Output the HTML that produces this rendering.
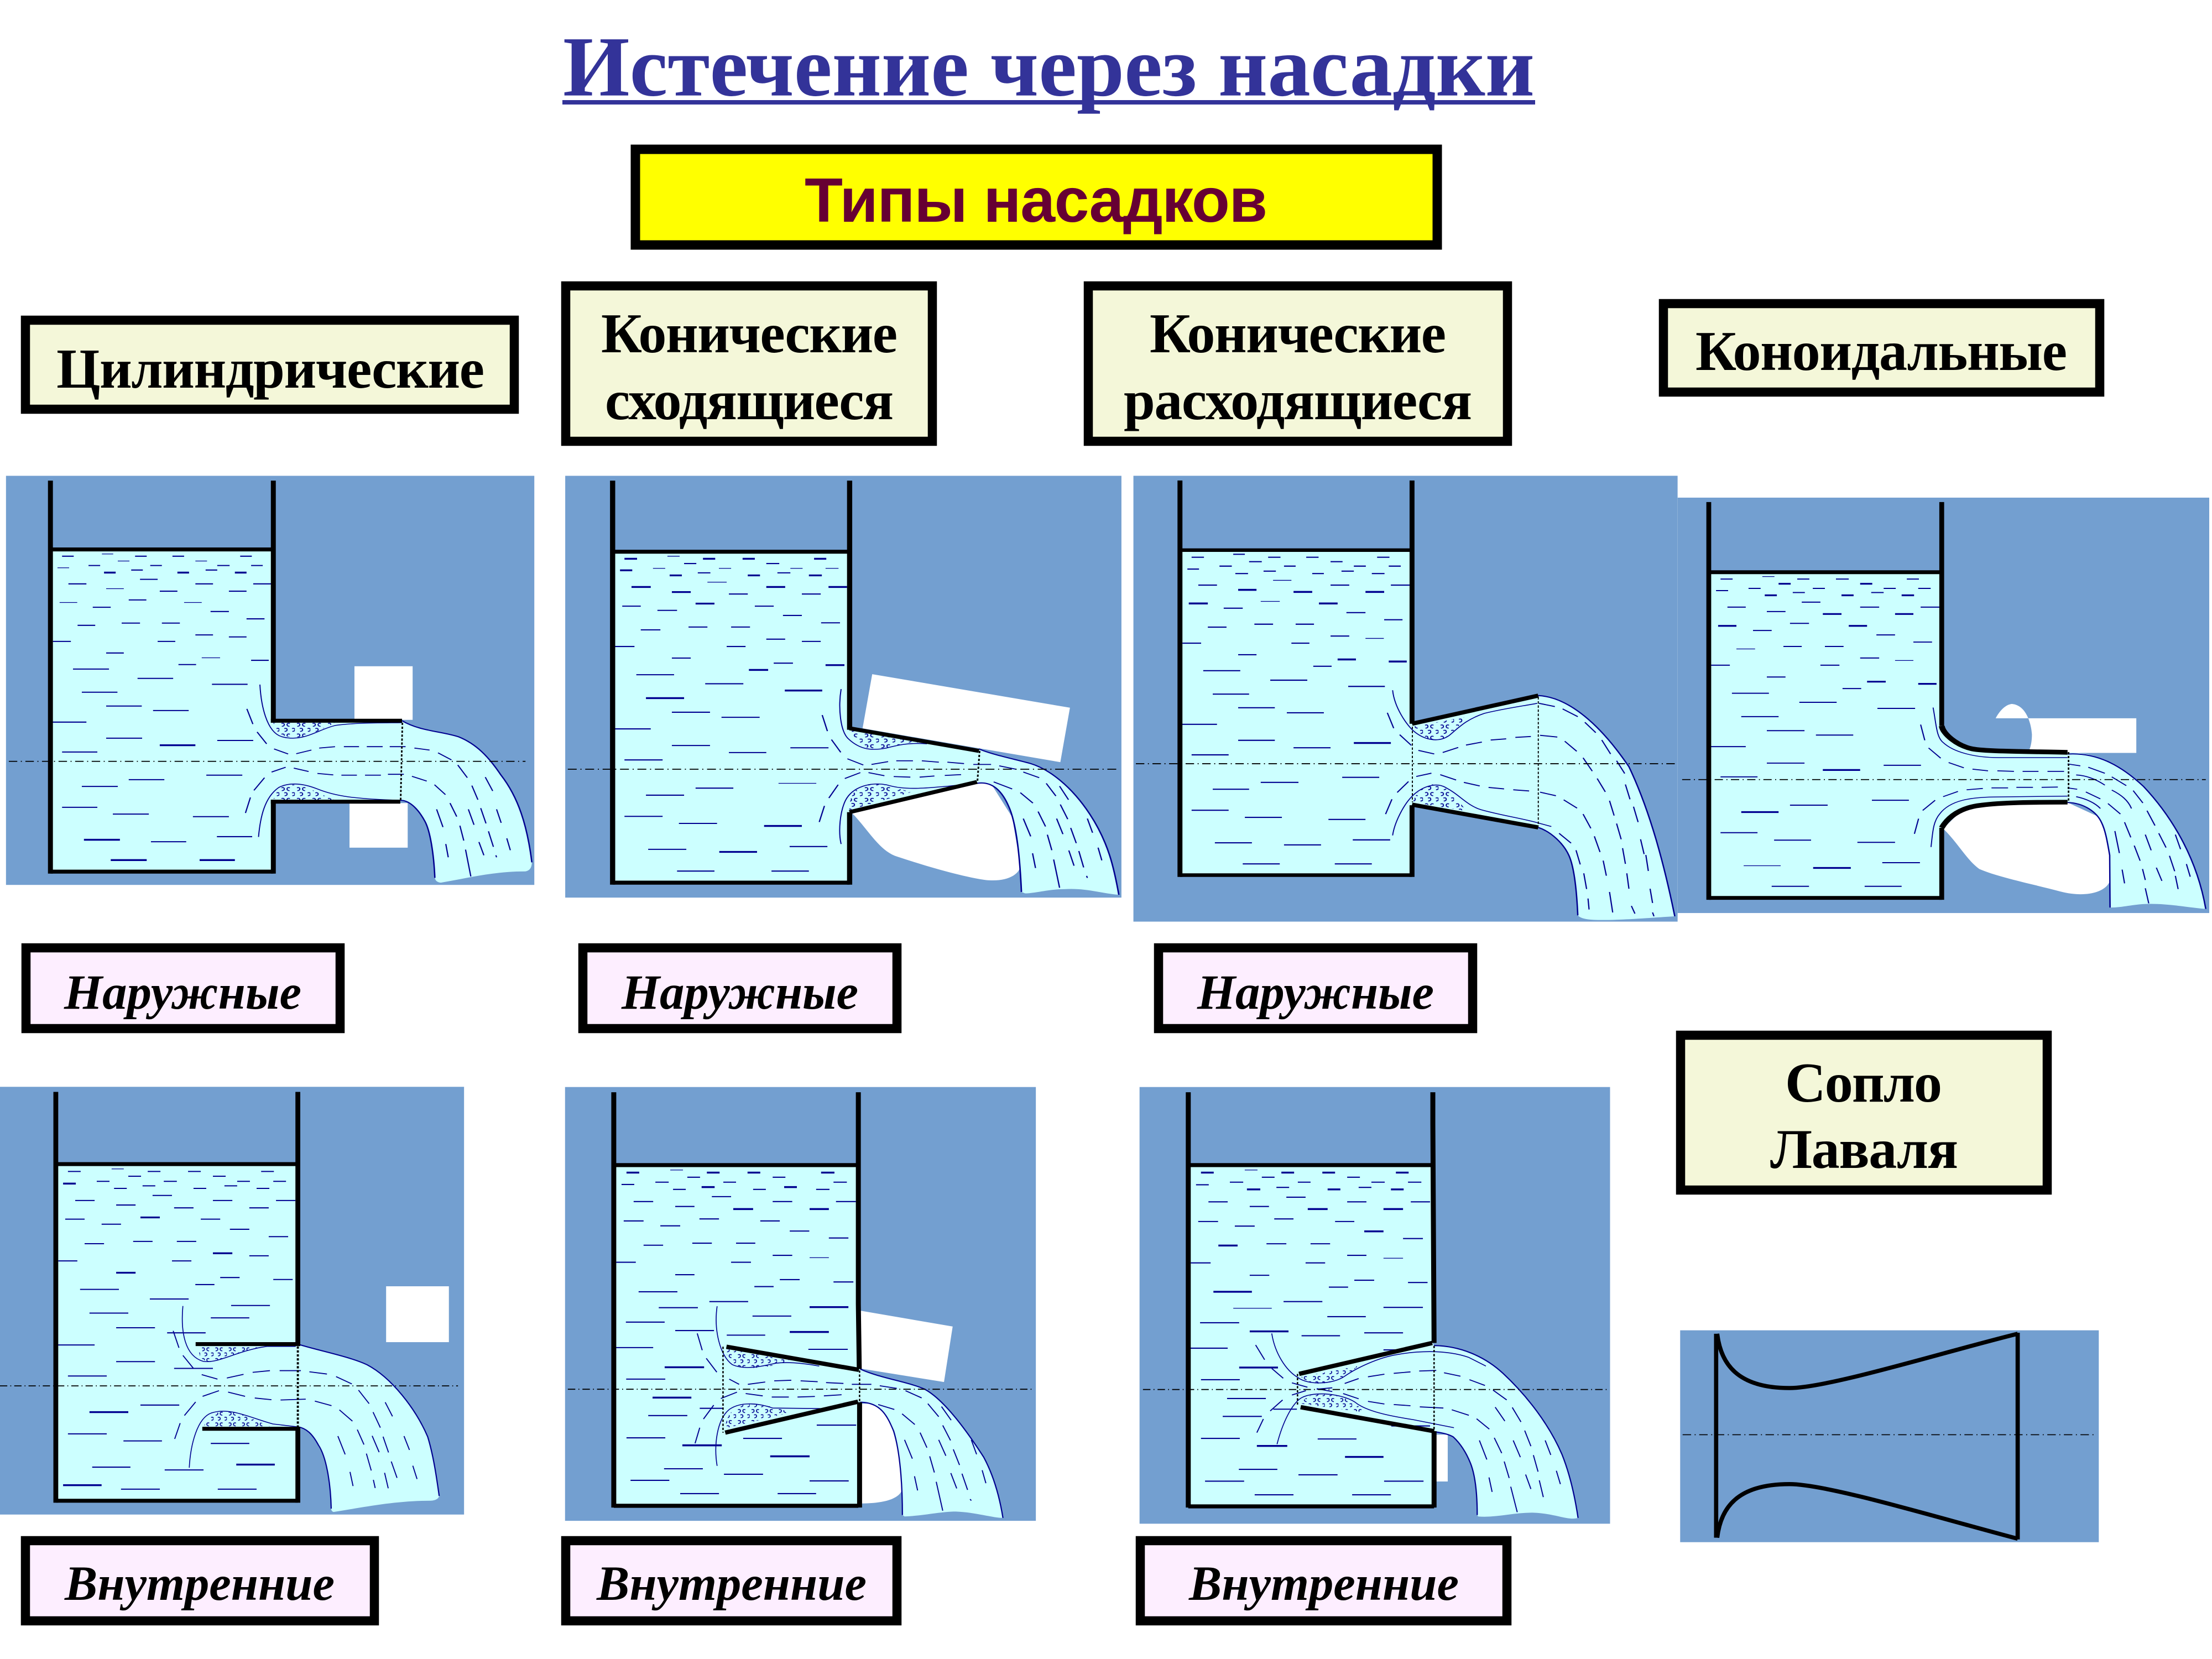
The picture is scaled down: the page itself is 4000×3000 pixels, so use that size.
<!DOCTYPE html>
<html lang="ru"><head><meta charset="utf-8"><title>Истечение через насадки</title>
<style>
html,body{margin:0;padding:0;background:#fff}
svg{display:block}
.ls{font-family:"Liberation Serif","Noto Serif CJK SC",serif;font-weight:bold;fill:#000}
.la{font-family:"Liberation Sans","Noto Sans CJK SC",sans-serif;font-weight:bold;fill:#660033}
.bg{fill:#739fd0}.wh{fill:#fff}.wt{fill:#ccffff}
.n,.k,.t,.s,.d,.e{fill:none;stroke:#000090}
.n{stroke-width:4}.k{stroke-width:6.5}.t{stroke-width:2.5}.s{stroke-width:3}.d{stroke-width:3.5}.e{stroke-width:4}
.w{fill:none;stroke:#000;stroke-width:14}.h{fill:none;stroke:#000;stroke-width:14}.z{fill:none;stroke:#000;stroke-width:14}
.o{fill:none;stroke:#000;stroke-width:4.5;stroke-dasharray:8 6}
.c{fill:none;stroke:#000;stroke-width:3.5;stroke-dasharray:24 10 3 10}
.dz{fill:url(#bub);stroke:none}
</style></head>
<body>
<svg xmlns="http://www.w3.org/2000/svg" width="4000" height="3000" viewBox="0 0 4000 3000">
<defs><pattern id="bub" patternUnits="userSpaceOnUse" width="44" height="38"><path d="M6 6q7-3 8 3t-7 7M30 6q-7-3-8 3t7 7M14 24q7-3 8 3t-7 7M36 24q7-3 8 3t-7 7" fill="none" stroke="#000090" stroke-width="3"/></pattern></defs>
<rect width="4000" height="3000" fill="#fff"/>

<!-- PANEL 1 -->
<g class="p" transform="translate(0,840) scale(.63776,.5102)">
<rect class="bg" x="17" y="40" width="1498" height="1450"/>
<rect class="wh" x="1005" y="715" width="165" height="190"/><rect class="wh" x="991" y="1200" width="165" height="158"/>
<path class="wt" d="M143 301H775V908H1140C1190 945 1250 945 1300 965C1350 990 1385 1035 1420 1100C1470 1180 1495 1280 1508 1410Q1508 1438 1490 1442C1400 1442 1330 1465 1250 1482Q1235 1480 1233 1465C1230 1380 1220 1300 1205 1265C1190 1230 1165 1190 1135 1190L775 1195V1443H143Z"/>
<path class="e" d="M1140 908C1190 945 1250 945 1300 965C1350 990 1385 1035 1420 1100C1470 1180 1495 1280 1508 1410M1233 1465C1230 1380 1220 1300 1205 1265C1190 1230 1165 1190 1135 1190"/>
<path class="n" d="M176 325h33M383 325h33M489 325h33M681 325h33M251 358h33M426 358h33M616 358h35M712 358h33M372 374h33M583 374h33M397 407h50M194 423h51M554 423h50M718 423h51M453 449h50M649 449h50M365 480h50M263 506h51M597 521h52M699 547h51M220 570h50M345 562h52M459 562h51M554 604h50M649 611h50M150 627h51M447 627h50M301 668h50M712 694h50M506 709h50M207 725h102M390 758h101M601 779h101M232 807h101M301 856h101M434 872h101M145 913h100M301 970h102M616 978h102M176 1019h100M365 1117h101M585 1101h102M232 1141h102M176 1215h100M320 1239h102M547 1248h102M615 1319h100M428 1337h100"/>
<path class="k" d="M295 383h33M503 383h33M666 383h33M453 995h101M238 1330h102M314 1402h102M566 1402h100"/>
<path class="t" d="M289 317h32M334 342h33M554 342h33M163 366h33M301 440h50M169 489h50M522 489h50M572 685h52"/>
<path class="dz" d="M775 915L950 915C900 945 860 975 820 965C790 960 780 940 775 915Z"/>
<path class="dz" d="M775 1190L950 1190C900 1165 860 1130 820 1135C790 1140 780 1165 775 1190Z"/>
<path class="s" d="M737 780C740 850 755 950 800 965C860 985 900 940 950 925C1000 915 1080 916 1140 915M733 1320C738 1250 750 1180 790 1145C820 1125 860 1130 900 1150C950 1175 1000 1185 1135 1190"/>
<path class="d" d="M700 866L717 920M729 948L756 990M777 1008L817 1026M840 1025L883 1012M905 1005L950 1000M975 1000H1018M1040 1000H1085M1105 1000H1150M1175 1005L1218 1012M1242 1022L1280 1047M1298 1065L1325 1110M1376 1108L1397 1157M1338 1138L1355 1188M1276 1200L1295 1248M1238 1222L1256 1285M1328 1222L1344 1277M1363 1218L1378 1272M1408 1222L1421 1270M1304 1280L1315 1333M1385 1300L1399 1355M1437 1325L1447 1367M1264 1345L1271 1392M1358 1338L1372 1385M1320 1365L1335 1460M1406 1385L1408 1392M696 1235L710 1180M720 1155L750 1110M770 1090L810 1073M833 1076L875 1088M900 1095L945 1100M968 1101H1012M1035 1101H1080M1100 1098H1145M1168 1105L1210 1122M1232 1135L1263 1170"/>
<path class="o" d="M1141 915L1136 1190"/>
<path class="w" d="M143 57V1450M775 57V915M775 1188V1450"/>
<path class="h" d="M143 301H775M143 1443H775M768 908H1140M768 1195H1135"/>
<path class="c" d="M25 1052H1490"/>
</g>

<!-- PANEL 2 -->
<g class="p" transform="translate(1000,840) scale(.66964,.5102)">
<rect class="bg" x="33" y="40" width="1502" height="1495"/>
<path class="wh" d="M862 743L1396 862L1370 1055L836 935Z"/>
<path class="wh" d="M805 1232C850 1290 880 1370 930 1390C1000 1420 1100 1460 1170 1473C1230 1480 1262 1450 1262 1420L1240 1250L1180 1125L1145 1130Z"/>
<path class="wt" d="M161 309H801V935L1150 1008C1190 1030 1250 1045 1290 1060C1340 1080 1400 1140 1450 1240C1500 1340 1515 1430 1528 1525C1480 1520 1440 1500 1380 1505C1340 1505 1300 1520 1275 1520L1265 1515C1262 1430 1255 1280 1230 1210C1215 1165 1190 1120 1145 1130L801 1232V1482H161Z"/>
<path class="e" d="M1150 1008C1190 1030 1250 1045 1290 1060C1340 1080 1400 1140 1450 1240C1500 1340 1515 1430 1528 1525M1265 1515C1262 1430 1255 1280 1230 1210C1215 1165 1190 1120 1145 1130"/>
<path class="n" d="M354 351h33M576 351h35M391 384h34M606 384h35M475 459h51M672 459h51M187 502h50M282 517h53M545 502h51M621 535h51M724 561h51M237 586h53M366 576h51M481 576h51M576 619h51M672 627h51M168 645h52M469 645h51M321 686h51M596 704h52M225 745h102M411 777h103M321 878h103M455 896h103M161 937h103M321 996h103M641 1004h103M475 1021h101M193 1047h103M385 1147h102M251 1172h103M193 1247h103M340 1272h103M639 1354h102M257 1364h103M335 1441h101M590 1441h101"/>
<path class="k" d="M193 334h34M405 334h33M512 334h33M705 334h33M181 375h33M315 393h33M526 393h33M691 393h35M212 434h52M321 452h51M576 434h51M744 434h50M385 493h51M529 728h52M736 711h51M626 801h101M251 828h103M570 1281h102M449 1373h102"/>
<path class="t" d="M309 325h33M270 368h33M448 368h33M641 368h33M736 368h35M417 417h52M609 1130h102"/>
<path class="dz" d="M803 940L1000 988C950 985 910 1005 870 1008C830 1005 810 975 803 940Z"/>
<path class="dz" d="M800 1225L970 1160C940 1155 920 1140 870 1132C820 1130 800 1170 800 1225Z"/>
<path class="s" d="M778 796C770 860 775 950 800 975C830 1010 860 1015 900 1005C930 995 960 985 1010 990M778 1345C770 1300 775 1230 790 1190C810 1140 860 1125 900 1135C950 1155 1000 1150 1140 1130"/>
<path class="d" d="M727 888L741 945M752 975L777 1020M795 1043L838 1065M860 1063L905 1053M927 1050H972M996 1050L1042 1055M1065 1055L1110 1060M1135 1063H1183M1205 1068L1250 1080M1270 1090L1313 1110M1332 1130L1358 1175M1368 1140L1392 1188M1370 1205L1390 1257M1398 1288L1413 1342M1443 1255L1457 1305M1360 1255L1377 1310M1310 1230L1330 1283M1270 1255L1290 1318M1335 1312L1347 1367M1393 1368L1407 1422M1420 1370L1433 1428M1472 1358L1482 1403M1295 1378L1303 1430M1352 1400L1368 1500M1441 1458L1443 1465M719 1267L733 1210M745 1182L770 1135M788 1113L830 1092M852 1092L895 1103M920 1106L965 1108M990 1108L1030 1104M1058 1102L1102 1099M1190 1125L1240 1150M1262 1163L1296 1200"/>
<path class="o" d="M1152 1015L1146 1125"/>
<path class="w" d="M161 57V1489M801 57V940M801 1232V1489"/>
<path class="h" d="M161 309H801M161 1482H801"/>
<path class="z" d="M801 935L1150 1015M801 1232L1145 1125"/>
<path class="c" d="M40 1080H1525"/>
</g>

<!-- PANEL 3 -->
<g class="p" transform="translate(2040,840) scale(.63776,.53571)">
<rect class="bg" x="15" y="38" width="1543" height="1505"/>
<path class="wt" d="M147 289H805V875L1163 780C1250 785 1340 880 1420 1020C1480 1170 1520 1350 1550 1525C1480 1530 1380 1540 1320 1537Q1285 1535 1275 1522C1272 1440 1265 1360 1250 1320C1235 1280 1200 1240 1163 1225L805 1148V1386H147Z"/>
<path class="e" d="M1163 780C1250 785 1340 880 1420 1020C1480 1170 1520 1350 1550 1525M1275 1522C1272 1440 1265 1360 1250 1320C1235 1280 1200 1240 1163 1225"/>
<path class="n" d="M180 313h35M397 313h35M505 313h35M706 313h35M298 303h33M343 328h36M574 328h34M259 343h35M442 343h33M640 343h34M739 343h34M168 353h33M304 368h36M522 368h33M691 368h36M384 360h35M605 360h35M199 407h53M574 407h53M745 407h53M271 485h54M619 500h54M726 524h52M226 549h53M358 539h53M475 539h52M574 579h53M154 603h53M463 603h51M312 642h52M525 681h52M213 696h105M403 728h105M240 775h103M312 821h104M450 838h105M149 877h103M312 931h104M469 956h105M180 980h105M376 1073h107M607 1056h105M240 1096h103M180 1167h105M331 1191h105M568 1198h105M637 1267h106M442 1284h105M246 1277h105M325 1348h105M586 1348h105M624 749h104"/>
<path class="k" d="M312 423h52M469 430h53M673 430h53M172 469h54M541 469h53M594 658h52M739 665h51M640 940h105"/>
<path class="t" d="M411 391h52M376 462h54M673 587h52"/>
<path class="dz" d="M808 885L965 850C930 890 900 935 865 930C835 925 815 905 808 885Z"/>
<path class="dz" d="M808 1140L960 1170C930 1125 900 1075 860 1080C830 1090 815 1110 808 1140Z"/>
<path class="s" d="M750 762C755 820 790 880 810 900C840 930 880 940 910 915C940 885 960 860 1010 840C1060 825 1120 815 1160 806M750 1252C755 1210 780 1150 805 1120C830 1090 870 1070 900 1090C940 1115 960 1150 1000 1165C1060 1185 1120 1195 1163 1210L1200 1222"/>
<path class="d" d="M735 838L753 890M770 912L803 948M823 965L868 977M892 972L936 955M958 947L1003 937M1028 930L1072 926M1098 921L1142 918M1168 914L1217 920M1238 934L1272 968M1290 990L1316 1035M1343 930L1368 977M1295 870L1326 905M1232 825L1275 851M1165 806L1210 817M1330 1060L1353 1105M1385 1000L1408 1043M1365 1135L1378 1185M1410 1080L1423 1130M1433 1155L1446 1207M1385 1212L1398 1265M1322 1255L1338 1308M1290 1180L1312 1228M1347 1337L1356 1388M1402 1295L1410 1348M1453 1265L1463 1315M1468 1318L1475 1372M1270 1302L1282 1350M1292 1380L1300 1433M1414 1380L1420 1432M1480 1432L1487 1480M1365 1443L1374 1512M1304 1465L1307 1502M1427 1490L1437 1516M1487 1512L1491 1525M730 1180L748 1130M763 1107L795 1070M817 1053L860 1042M885 1047L930 1065M952 1073L997 1085M1022 1090L1066 1095M1092 1098L1137 1102M1168 1106L1213 1118M1235 1132L1273 1160M1222 1245L1256 1278"/>
<path class="o" style="stroke-width:3" d="M806 885V1140M1163 785V1215"/>
<path class="w" d="M147 54V1392M805 54V875M805 1150V1392"/>
<path class="h" style="stroke-width:12" d="M147 289H805M147 1386H805"/>
<path class="z" d="M805 875L1163 780M805 1148L1163 1225"/>
<path class="c" d="M22 1010H1550"/>
</g>

<!-- PANEL 4 -->
<g class="p" transform="translate(3020,880) scale(.625,.49745)">
<rect class="bg" x="22" y="40" width="1538" height="1510"/>
<path class="wh" d="M942 842C960 800 980 790 990 790C1030 795 1045 860 1047 900C1047 920 1045 940 1040 955V968H1349V842Z"/>
<path class="wh" d="M790 1243C830 1290 860 1360 895 1390C950 1420 1050 1445 1130 1472C1200 1495 1260 1475 1272 1435L1272 1300L1240 1200L1150 1148L950 1150L850 1170Z"/>
<path class="wt" d="M112 311H786V870C790 900 830 940 870 952C900 962 1000 962 1150 966C1240 965 1310 1020 1370 1090C1430 1170 1520 1320 1550 1535C1500 1530 1440 1515 1380 1517C1340 1518 1310 1530 1275 1530L1272 1340C1265 1290 1260 1250 1248 1220C1235 1185 1200 1150 1150 1148C1050 1147 960 1148 900 1158C850 1165 810 1190 786 1240V1495H112Z"/>
<path class="e" d="M1150 972C1240 965 1310 1020 1370 1090C1430 1170 1520 1320 1550 1535M1273 1530L1272 1340C1265 1290 1260 1250 1248 1220C1235 1185 1200 1150 1150 1148"/>
<path class="n" d="M146 336h35M368 336h35M480 336h37M685 336h35M227 370h35M413 370h35M618 370h35M718 370h36M133 378h35M355 385h35M582 385h36M381 420h54M166 438h53M550 438h55M725 438h55M280 454h54M347 497h55M240 523h54M597 539h54M704 565h54M328 581h53M448 581h54M550 623h55M118 649h55M435 649h55M280 692h54M499 734h54M179 751h107M374 784h108M600 806h109M206 836h108M280 887h109M422 903h108M118 945h101M280 1005h109M618 1013h108M146 1055h107M347 1158h109M584 1140h107M146 1258h107M301 1285h107M542 1293h109M614 1367h109M294 1453h108M563 1453h107"/>
<path class="k" d="M314 353h35M550 353h35M274 395h35M496 395h35M670 395h36M442 463h54M651 463h53M139 506h53M517 506h53M570 709h54M718 717h53M442 1030h108M206 1183h108M414 1386h109"/>
<path class="t" d="M267 327h35M192 590h54M651 632h53M213 1378h107"/>
<path class="s" d="M761 803C770 860 770 910 790 930C820 965 880 985 950 985L1150 985M755 1310C760 1260 760 1220 780 1190C810 1140 870 1128 950 1128L1150 1125"/>
<path class="d" d="M725 865L737 922M748 950L783 987M806 1003L850 1022M875 1027L920 1033M947 1033L995 1035M1020 1035H1066M1092 1035H1140M1150 1008L1187 1015M1210 1020L1258 1042M1278 1055L1320 1087M1340 1105L1368 1150M1380 1178L1403 1232M1414 1260L1435 1312M1462 1265L1477 1318M1175 1048C1210 1050 1240 1070 1258 1085M1175 1127C1205 1135 1230 1150 1245 1170M1267 1152L1303 1190M1315 1220L1333 1275M1375 1265L1392 1322M1287 1252L1300 1332M1343 1305L1360 1360M1445 1342L1460 1398M1494 1372L1505 1418M1407 1385L1423 1433M1308 1392L1315 1442M1367 1390L1375 1430M1462 1415L1470 1463M1375 1460L1385 1515M1203 1110L1245 1135M1278 1103C1305 1120 1325 1140 1335 1170M1150 1095L1178 1100M707 1262L719 1207M731 1177L767 1140M790 1127L833 1108M858 1102L905 1097M930 1095L978 1095M1002 1093L1050 1093M1075 1093L1122 1092"/>
<path class="o" d="M1153 965V1148"/>
<path class="w" d="M112 56V1502M786 56V870M786 1240V1502"/>
<path class="h" d="M112 311H786M112 1495H786"/>
<path class="z" style="stroke-width:17" d="M786 870C790 900 830 940 870 952C900 962 1000 962 1150 966M786 1240C810 1190 850 1165 900 1158C960 1148 1050 1147 1150 1147"/>
<path class="c" d="M35 1065H1550"/>
</g>

<!-- PANEL 5 -->
<g class="p" transform="translate(0,1950) scale(.54847,.5102)">
<rect class="bg" x="0" y="30" width="1530" height="1516"/>
<rect class="wh" x="1273" y="737" width="207" height="198"/>
<path class="wt" d="M184 304H982V942C1050 965 1150 985 1210 1015C1290 1060 1370 1170 1410 1270C1430 1340 1440 1420 1448 1480Q1445 1495 1420 1497C1300 1497 1200 1520 1100 1537Q1092 1535 1092 1525C1090 1430 1075 1340 1050 1300C1030 1260 1010 1240 982 1235V1497H184Z"/>
<path class="e" d="M982 942C1050 965 1150 985 1210 1015C1290 1060 1370 1170 1410 1270C1430 1340 1440 1420 1448 1480M1092 1525C1090 1430 1075 1340 1050 1300C1030 1260 1010 1240 982 1235"/>
<path class="n" d="M224 330h42M487 330h42M620 330h42M861 330h42M423 347h42M702 347h42M319 365h42M540 365h43M782 365h42M901 365h42M376 390h42M470 381h42M638 390h42M740 381h42M846 390h42M503 415h64M248 433h64M702 433h64M910 433h64M383 449h64M574 459h64M822 459h64M215 499h64M662 499h64M335 517h64M758 535h64M886 561h64M279 586h64M439 578h64M583 578h64M822 629h64M192 647h63M567 647h64M726 706h64M644 731h63M901 713h64M264 748h128M494 782h128M295 832h128M762 805h128M695 849h127M383 884h128M551 902h127M186 945h126M383 1004h128M574 1028h128M224 1055h128M463 1158h128M224 1260h128M407 1285h127M695 1294h127M304 1378h126M543 1388h128M399 1456h128M718 1456h128"/>
<path class="k" d="M208 373h42M463 493h64M702 620h64M383 689h64M295 1183h128M779 1369h127M208 1442h127"/>
<path class="t" d="M368 321h40"/>
<path class="dz" d="M655 950L870 950C800 960 740 1000 690 1003C660 1000 655 980 655 950Z"/>
<path class="dz" d="M672 1235L895 1235C840 1215 790 1175 740 1180C700 1185 680 1205 672 1235Z"/>
<path class="s" d="M603 807C595 900 610 985 670 1003C720 1012 780 965 880 950L975 950M624 1380C628 1300 650 1200 700 1185C760 1165 830 1205 900 1225L980 1235"/>
<path class="d" d="M571 895L590 955M603 982L637 1027M665 1050L717 1066M748 1062L803 1049M833 1042L890 1036M922 1036L992 1036M1020 1040L1078 1048M1108 1057L1160 1083M1182 1105L1217 1153M1270 1148L1294 1198M1230 1183L1254 1238M1178 1245L1200 1298M1227 1267L1250 1325M1263 1270L1281 1326M1332 1268L1350 1317M1114 1268L1138 1333M1208 1330L1224 1390M1290 1358L1309 1416M1361 1373L1375 1420M1154 1395L1164 1445M1231 1423L1237 1452M1268 1398L1280 1453M576 1278L594 1222M608 1195L645 1147M668 1127L722 1107M752 1112L808 1127M840 1133L895 1139M925 1140L1008 1137M1038 1144L1093 1160M1119 1175L1162 1215"/>
<path class="o" style="stroke-width:7" d="M982 950V1235"/>
<path class="w" style="stroke-width:16" d="M184 48V1504M982 48V942M982 1240V1504"/>
<path class="h" d="M184 304H982M184 1497H982M645 942H990M667 1242H990"/>
<path class="c" d="M0 1090H1510"/>
</g>

<!-- PANEL 6 -->
<g class="p" transform="translate(1010,1950) scale(.56122,.52296)">
<rect class="bg" x="21" y="30" width="1517" height="1500"/>
<path class="wh" d="M970 803L1270 858L1242 1050L970 1003Z"/>
<path class="wh" d="M970 1125L1030 1125C1080 1180 1100 1300 1108 1420C1100 1450 1060 1470 970 1470Z"/>
<path class="wt" d="M178 300H966V1005L972 1005C1030 1035 1130 1050 1180 1075C1240 1110 1310 1210 1370 1310C1400 1370 1420 1440 1432 1520C1400 1520 1340 1500 1280 1498C1230 1498 1180 1512 1115 1515L1108 1510C1108 1400 1100 1290 1080 1220C1060 1170 1040 1120 972 1120L966 1120V1478H178Z"/>
<path class="e" d="M972 1005C1030 1035 1130 1050 1180 1075C1240 1110 1310 1210 1370 1310C1400 1370 1420 1440 1432 1520M1108 1510C1108 1400 1100 1290 1080 1220C1060 1170 1040 1120 972 1120"/>
<path class="n" d="M312 359h43M531 359h41M886 359h43M415 342h41M690 342h41M203 367h41M369 384h41M627 384h41M830 384h43M494 409h62M242 426h63M690 426h63M894 426h64M376 443h62M210 493h64M454 486h63M650 493h63M328 510h64M745 528h63M871 552h63M274 577h63M431 570h63M572 570h62M186 636h63M556 636h64M690 612h63M376 679h62M713 696h64M631 720h62M886 704h64M258 738h125M486 772h125M323 793h126M625 822h125M217 843h125M376 872h125M542 888h124M805 937h127M178 931h127M218 1040h126M289 1166h126M455 1141h75M832 1199h127M219 1243h125M595 1245h125M340 1350h125M533 1369h126M232 1390h125M809 1392h126M392 1436h125M706 1436h124"/>
<path class="k" d="M219 326h41M478 326h41M609 326h41M846 326h43M461 376h42M727 376h41M563 452h64M809 452h62M809 791h125M745 877h126M342 999h127M303 1104h125M399 1269h127M682 1307h127"/>
<path class="t" d="M360 317h41M809 620h62"/>
<path class="dz" d="M537 935L745 975C700 995 640 1005 590 1000C560 990 540 965 537 935Z"/>
<path class="dz" d="M537 1210L750 1155C700 1140 650 1120 600 1128C560 1135 540 1170 537 1210Z"/>
<path class="s" d="M511 788C500 870 520 960 560 990C600 1010 660 995 700 985C740 980 790 985 840 995M511 1340C500 1270 510 1180 550 1145C590 1115 650 1125 690 1140L850 1142"/>
<path class="d" d="M447 882L463 940M476 968L510 1016M550 1040L582 1058M610 1058L666 1050M695 1046L750 1044M780 1046L835 1049M862 1052L918 1055M945 1058L1008 1058M1035 1063L1090 1072M1118 1080L1170 1105M1190 1125L1225 1170M1234 1135L1265 1182M1238 1200L1263 1252M1165 1225L1187 1277M1225 1250L1248 1305M1330 1250L1347 1300M1115 1250L1140 1315M1272 1283L1292 1337M1196 1307L1211 1363M1264 1365L1283 1418M1300 1367L1318 1423M1365 1355L1377 1400M1147 1376L1157 1425M1217 1395L1238 1495M1326 1455L1330 1460M440 1262L455 1208M467 1178L500 1130M523 1107L575 1085M603 1090L658 1098M687 1102L742 1102M770 1102L826 1100M855 1098L912 1094M1030 1128L1082 1145M1107 1160L1148 1197"/>
<path class="o" d="M530 928V1225M970 1010V1120"/>
<path class="w" style="stroke-width:16" d="M178 48V1484M966 48V780L969 1005M970 1120V1484"/>
<path class="h" d="M178 300H966M178 1478H966"/>
<path class="z" style="stroke-width:15" d="M541 928L968 1008M537 1225L965 1118"/>
<path class="c" d="M30 1075H1530"/>
</g>

<!-- PANEL 7 -->
<g class="p" transform="translate(2050,1950) scale(.56122,.52296)">
<rect class="bg" x="19" y="30" width="1516" height="1510"/>
<rect class="wh" x="975" y="1232" width="37" height="162"/>
<path class="wt" d="M176 300H964V915L968 924C1050 925 1130 960 1190 1020C1270 1100 1340 1200 1380 1300C1410 1380 1425 1470 1432 1520C1400 1530 1360 1505 1290 1502C1230 1500 1170 1520 1110 1515L1107 1510C1107 1430 1100 1370 1085 1330C1070 1290 1050 1260 1030 1240C1015 1230 990 1225 970 1222V1480H176Z"/>
<path class="e" d="M968 924C1050 925 1130 960 1190 1020C1270 1100 1340 1200 1380 1300C1410 1380 1425 1470 1432 1520M1107 1510C1107 1430 1100 1370 1085 1330C1070 1290 1050 1260 1030 1240C1015 1230 990 1225 970 1222"/>
<path class="n" d="M413 342h41M688 342h41M310 359h43M529 359h41M766 359h43M884 359h43M201 368h41M460 377h41M725 377h41M492 411h62M241 427h62M688 427h62M893 427h62M374 443h62M208 495h64M453 486h62M649 495h62M326 511h64M868 554h64M428 572h64M570 572h63M184 638h64M554 638h63M688 612h62M374 681h63M711 698h64M629 722h62M884 706h63M483 772h125M805 792h127M624 824h124M214 845h126M743 880h125M541 890h124M176 933h127M805 939h60M217 1042h125M301 1107h125M287 1169h126M450 1144h76M830 1202h125M217 1245h125M593 1247h125M339 1352h124M531 1371h126M230 1393h126M807 1393h127M390 1440h125M704 1440h125"/>
<path class="k" d="M217 326h41M476 326h41M608 326h41M845 326h41M365 384h43M625 384h41M829 384h41M561 452h64M805 452h63M743 529h62M273 578h62M257 738h124M374 875h125M340 1000h125M397 1271h98M681 1309h124"/>
<path class="t" d="M358 317h41M321 795h124M805 622h63"/>
<path class="dz" d="M540 1032L722 995C690 1030 640 1060 590 1055C565 1050 550 1045 540 1032Z"/>
<path class="dz" d="M540 1125L745 1155C720 1125 680 1095 610 1090C570 1090 550 1105 540 1125Z"/>
<path class="s" d="M445 882C455 950 490 1010 530 1035C560 1060 640 1060 680 1030C720 1000 790 965 850 955C900 945 1000 935 1080 965L1135 995M462 1265C480 1190 510 1125 540 1105C580 1080 680 1090 720 1125C760 1155 840 1170 900 1180L1032 1208"/>
<path class="d" d="M393 922L422 973M445 1003L482 1037M510 1053L560 1068M590 1075L640 1070M680 1055L725 1038M755 1032L808 1023M838 1020L892 1015M920 1012L975 1010M1000 1018L1053 1030M1082 1042L1132 1062M1158 1078L1202 1112M1220 1138L1248 1188M1165 1137L1196 1185M1260 1218L1280 1272M1162 1243L1186 1296M1223 1252L1246 1310M1326 1252L1344 1302M1114 1252L1138 1318M1288 1303L1303 1360M1194 1325L1210 1382M1263 1370L1280 1420M1307 1390L1320 1448M1362 1357L1375 1403M1145 1380L1155 1430M1215 1412L1236 1500M397 1225L418 1178M440 1150L480 1112M510 1095L555 1080M590 1073L640 1083M675 1090L725 1108M755 1117L808 1126M838 1128L892 1132M922 1136L998 1140M1025 1146L1080 1165M1105 1177L1146 1213"/>
<path class="o" d="M528 1022V1130M968 925V1220"/>
<path class="w" style="stroke-width:16" d="M176 48V1484M964 48V155L968 915M968 1220V1484"/>
<path class="h" d="M176 300H964M176 1480H968"/>
<path class="z" style="stroke-width:15" d="M533 1022L962 915M538 1137L968 1220"/>
<path class="c" d="M30 1076H1530"/>
</g>

<!-- PANEL 8 -->
<g class="p" transform="translate(3000,1840) scale(.63776,.625)">
<rect class="bg" x="60" y="905" width="1187" height="613"/>
<path class="w" style="stroke-width:12" d="M162 915V1505M1017 912V1510"/>
<path class="w" style="stroke-width:12" d="M165 915C175 1000 220 1072 370 1072C480 1072 800 970 1017 915M165 1505C175 1420 220 1350 370 1350C480 1350 800 1450 1017 1508"/>
<path class="c" style="stroke-width:2.6" d="M67 1207H1240"/>
</g>

<!-- TITLE -->
<text x="1018" y="172.6" class="ls" font-size="155" style="fill:#333399" textLength="1757" lengthAdjust="spacing">Истечение через насадки</text>
<rect x="1017" y="181" width="1759" height="8" fill="#333399"/>

<!-- TYPE BOX -->
<rect x="1149" y="270" width="1450" height="173" fill="#ffff00" stroke="#000" stroke-width="17"/>
<text x="1455" y="401" class="la" font-size="113" textLength="837" lengthAdjust="spacing">Типы насадков</text>

<!-- HEADER BOXES -->
<g fill="#f4f7d9" stroke="#000" stroke-width="16.5">
<rect x="46" y="579" width="884" height="161"/>
<rect x="1023" y="517" width="663" height="281"/>
<rect x="1968" y="517" width="758" height="281"/>
<rect x="3008" y="549" width="789" height="160"/>
<rect x="3039" y="1872" width="663" height="280"/>
</g>
<g font-size="102">
<text x="102" y="701" class="ls" textLength="774" lengthAdjust="spacing">Цилиндрические</text>
<text x="1087" y="637" class="ls" textLength="536" lengthAdjust="spacing">Конические</text>
<text x="1094" y="758" class="ls" textLength="522" lengthAdjust="spacing">сходящиеся</text>
<text x="2079" y="637" class="ls" textLength="536" lengthAdjust="spacing">Конические</text>
<text x="2032" y="758" class="ls" textLength="630" lengthAdjust="spacing">расходящиеся</text>
<text x="3066" y="669" class="ls" textLength="672" lengthAdjust="spacing">Коноидальные</text>
<text x="3228" y="1992" class="ls" textLength="284" lengthAdjust="spacing">Сопло</text>
<text x="3201" y="2112" class="ls" textLength="340" lengthAdjust="spacing">Лаваля</text>
</g>

<!-- ITEM BOXES -->
<g fill="#fdeeff" stroke="#000" stroke-width="16.5">
<rect x="47" y="1714" width="568" height="146"/>
<rect x="1054" y="1714" width="568" height="146"/>
<rect x="2095" y="1714" width="568" height="146"/>
<rect x="46" y="2786" width="631" height="145"/>
<rect x="1023" y="2786" width="599" height="145"/>
<rect x="2062" y="2786" width="663" height="145"/>
</g>
<g font-size="89" style="font-style:italic">
<text x="116" y="1824" class="ls" textLength="429" lengthAdjust="spacing">Наружные</text>
<text x="1124" y="1824" class="ls" textLength="428" lengthAdjust="spacing">Наружные</text>
<text x="2165" y="1824" class="ls" textLength="428" lengthAdjust="spacing">Наружные</text>
<text x="117" y="2893" class="ls" textLength="488" lengthAdjust="spacing">Внутренние</text>
<text x="1079" y="2893" class="ls" textLength="488" lengthAdjust="spacing">Внутренние</text>
<text x="2150" y="2893" class="ls" textLength="488" lengthAdjust="spacing">Внутренние</text>
</g>
</svg>
</body></html>
